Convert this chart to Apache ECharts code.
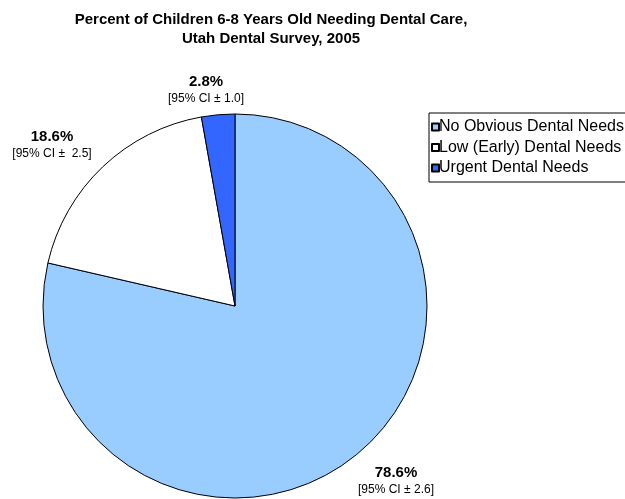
<!DOCTYPE html>
<html>
<head>
<meta charset="utf-8">
<script src="https://cdn.jsdelivr.net/npm/echarts@6/dist/echarts.min.js"></script>
<style>
  html, body { margin: 0; padding: 0; background: #fff; }
  #chart { width: 625px; height: 499px; }
</style>
</head>
<body>
<div id="chart"></div>
<script>
// Dental need categories and survey results
const categories = ['No Obvious Dental Needs', 'Low (Early) Dental Needs', 'Urgent Dental Needs'];
const percents = [78.6, 18.6, 2.8];
const ciHalfWidths = ['2.6', ' 2.5', '1.0'];
const sliceColors = ['#99CCFF', '#FFFFFF', '#3366FF'];

// Where each slice's value label sits (centre of the two-line label)
const labelSpots = [
  { x: 396, y: 481 },
  { x: 52, y: 145 },
  { x: 206, y: 90 }
];

const FONT = 'Liberation Sans, Arial, sans-serif';
const chart = echarts.init(document.getElementById('chart'), null, { renderer: 'canvas' });

const seriesData = categories.map((name, i) => ({
  name: name,
  value: percents[i],
  itemStyle: { color: sliceColors[i] },
  label: {
    formatter: '{p|' + percents[i].toFixed(1) + '%}\n{ci|[95% CI \u00B1 ' + ciHalfWidths[i] + ']}'
  }
}));

chart.setOption({
  backgroundColor: '#ffffff',
  animation: false,
  title: {
    text: 'Percent of Children 6-8 Years Old Needing Dental Care,\nUtah Dental Survey, 2005',
    left: 266,
    textAlign: 'center',
    top: 5,
    textStyle: {
      fontFamily: FONT,
      fontSize: 15,
      fontWeight: 'bold',
      color: '#000',
      lineHeight: 19
    }
  },
  legend: {
    orient: 'vertical',
    left: 429,
    top: 113,
    itemWidth: 7,
    itemHeight: 7,
    itemGap: 0.5,
    padding: [4, 6, 4, 2],
    borderColor: '#000',
    borderWidth: 1,
    icon: 'rect',
    data: categories,
    textStyle: {
      fontFamily: FONT,
      fontSize: 16,
      lineHeight: 20,
      color: '#000',
      padding: [0, 0, 0, -5]
    }
  },
  series: [{
    type: 'pie',
    center: [235, 306],
    radius: 192,
    startAngle: 90,
    clockwise: true,
    silent: true,
    data: seriesData,
    itemStyle: { borderColor: '#000', borderWidth: 1 },
    label: {
      show: true,
      position: 'inside',
      overflow: 'none',
      color: '#000',
      fontFamily: FONT,
      rich: {
        p: { fontSize: 15, fontWeight: 'bold', color: '#000', lineHeight: 17, align: 'center', fontFamily: FONT },
        ci: { fontSize: 12, color: '#000', lineHeight: 17, align: 'center', fontFamily: FONT }
      }
    },
    labelLine: { show: false },
    labelLayout: function (params) {
      const spot = labelSpots[params.dataIndex];
      return { x: spot.x, y: spot.y, align: 'center', verticalAlign: 'middle' };
    }
  }]
});
</script>
</body>
</html>
